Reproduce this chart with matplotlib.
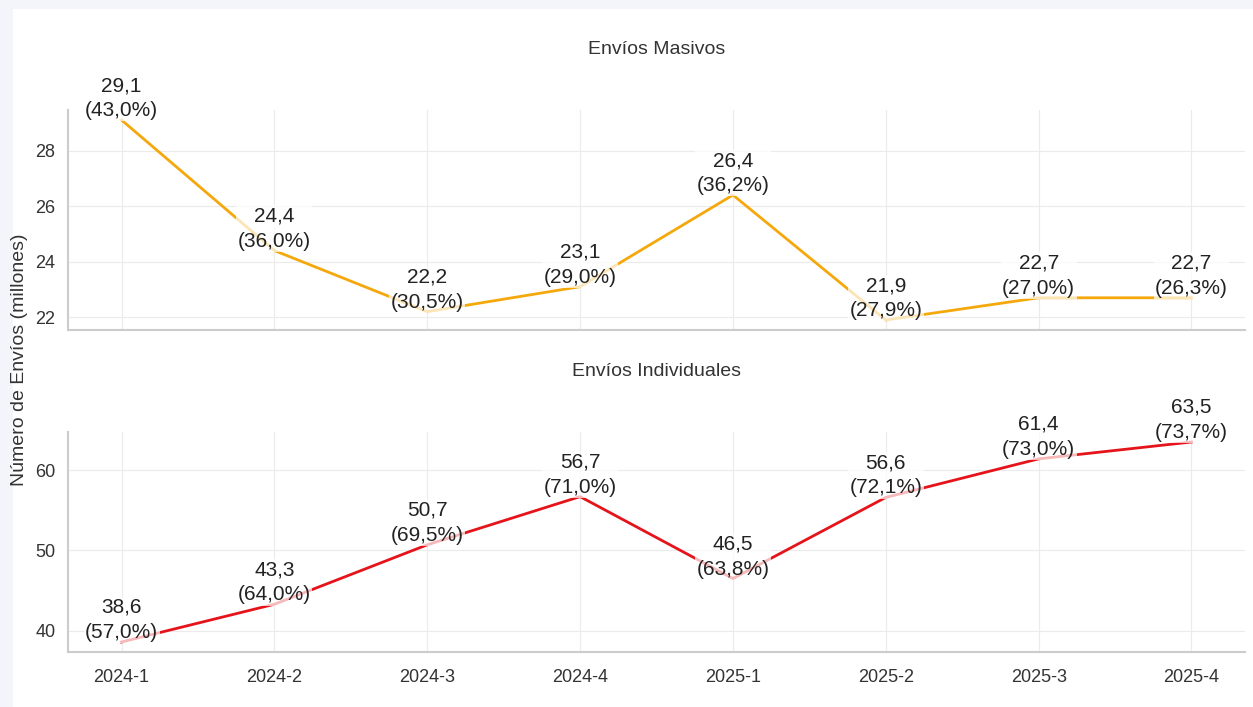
import matplotlib
matplotlib.use("Agg")
import matplotlib.pyplot as plt
from matplotlib.patches import Rectangle
from matplotlib.ticker import MultipleLocator

plt.rcParams["font.family"] = ["Liberation Sans", "DejaVu Sans"]

# datos por trimestre
trimestres = ["2024-1", "2024-2", "2024-3", "2024-4", "2025-1", "2025-2", "2025-3", "2025-4"]
masivos = [29.1, 24.4, 22.2, 23.1, 26.4, 21.9, 22.7, 22.7]
masivos_pct = [43.0, 36.0, 30.5, 29.0, 36.2, 27.9, 27.0, 26.3]
individuales = [38.6, 43.3, 50.7, 56.7, 46.5, 56.6, 61.4, 63.5]
individuales_pct = [57.0, 64.0, 69.5, 71.0, 63.8, 72.1, 73.0, 73.7]


def coma(v):
    return f"{v:.1f}".replace(".", ",")


fig, (ax1, ax2) = plt.subplots(2, 1, sharex=True, figsize=(12.53, 7.07), dpi=100)
fig.patch.set_facecolor("#f3f5fa")
fig.add_artist(Rectangle((13 / 1253, 0), 1, 1 - 9 / 707, transform=fig.transFigure,
                         facecolor="white", edgecolor="none", zorder=-1))
fig.subplots_adjust(left=0.0543, right=0.9936, top=0.8444, bottom=0.0778, hspace=0.4636)

series = [
    (ax1, masivos, masivos_pct, "#f4a80c", "Envíos Masivos", 2),
    (ax2, individuales, individuales_pct, "#e5141b", "Envíos Individuales", 10),
]

for ax, vals, pcts, color, titulo, paso in series:
    ax.set_facecolor("white")
    ax.plot(trimestres, vals, color=color, lw=2, zorder=2)
    for i, (v, p) in enumerate(zip(vals, pcts)):
        ax.text(i, v, f"{coma(v)}\n({coma(p)}%)", ha="center", va="bottom",
                fontsize=15, color="#222222", linespacing=1.4, zorder=3,
                bbox=dict(facecolor="white", alpha=0.7, edgecolor="none", pad=1))
    ax.set_title(titulo, fontsize=14, color="#333333", pad=40)
    ax.yaxis.set_major_locator(MultipleLocator(paso))
    ax.grid(True, color="#ebebeb", lw=0.8)
    ax.set_axisbelow(True)
    for s in ["top", "right"]:
        ax.spines[s].set_visible(False)
    for s in ["left", "bottom"]:
        ax.spines[s].set_color("#cccccc")
        ax.spines[s].set_linewidth(1.5)
    ax.tick_params(axis="y", length=0, pad=9, labelsize=13, labelcolor="#333333")
    ax.tick_params(axis="x", length=0, pad=12, labelsize=13, labelcolor="#333333")

ax1.tick_params(axis="x", labelbottom=False)

fig.text(20 / 1253, 1 - 360 / 707, "Número de Envíos (millones)", rotation=90,
         ha="center", va="center", fontsize=14, color="#333333")

fig.savefig("out.png", dpi=100, facecolor=fig.get_facecolor())
